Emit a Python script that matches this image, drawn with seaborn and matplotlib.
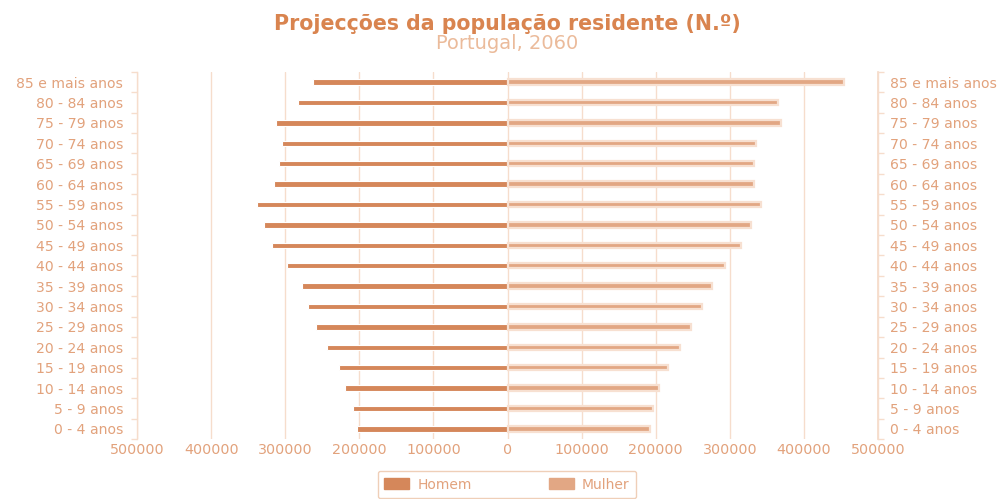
import matplotlib
matplotlib.use("Agg")
import matplotlib.pyplot as plt
import matplotlib.patches as mpatches
import matplotlib.ticker as mticker
import numpy as np
import pandas as pd
import seaborn as sns

# Age groups, top of the pyramid first
grupos = ["85 e mais anos", "80 - 84 anos", "75 - 79 anos", "70 - 74 anos",
          "65 - 69 anos", "60 - 64 anos", "55 - 59 anos", "50 - 54 anos",
          "45 - 49 anos", "40 - 44 anos", "35 - 39 anos", "30 - 34 anos",
          "25 - 29 anos", "20 - 24 anos", "15 - 19 anos", "10 - 14 anos",
          "5 - 9 anos", "0 - 4 anos"]
homem = [263000, 283000, 312000, 304000, 308000, 315000, 338000, 328000,
         318000, 298000, 278000, 269000, 259000, 244000, 228000, 219000,
         209000, 203000]
mulher = [454000, 365000, 369000, 336000, 332000, 332000, 342000, 329000,
          315000, 293000, 276000, 262000, 248000, 233000, 217000, 205000,
          197000, 192000]
x_ticks = [-500000, -400000, -300000, -200000, -100000, 0,
           100000, 200000, 300000, 400000, 500000]

c_homem = "#d5875a"
c_mulher = "#e2a784"
c_text = "#e2a27c"
c_grid = "#f6ddcc"
c_title = "#d9844f"

sns.set_theme(style="white")
plt.rcParams["font.family"] = ["DejaVu Sans"]

df = pd.DataFrame({"grupo": grupos, "Homem": np.negative(homem), "Mulher": mulher})

fig = plt.figure(figsize=(10.04, 4.99), dpi=100)
ax = fig.add_axes([0.1365, 0.12, 0.738, 0.736])

sns.barplot(data=df, y="grupo", x="Homem", orient="h", color=c_homem,
            width=0.27, edgecolor="white", linewidth=0.8, saturation=1, ax=ax)
sns.barplot(data=df, y="grupo", x="Mulher", orient="h", color=c_mulher,
            width=0.27, edgecolor="#f7e0d1", linewidth=1.6, saturation=1, ax=ax)

ax.set_xlim(-500000, 500000)
ax.set_xticks(x_ticks)
ax.xaxis.set_major_formatter(mticker.FuncFormatter(lambda v, p: f"{abs(int(v))}"))
ax.set_xlabel("")
ax.set_ylabel("")
ax.grid(axis="x", color=c_grid, linewidth=1)
ax.set_axisbelow(True)

ax.tick_params(axis="x", length=0, labelsize=10.3, labelcolor=c_text, pad=3)
ax.tick_params(axis="y", which="major", length=0, labelsize=10.1, labelcolor=c_text, pad=10)
ax.set_yticks(np.arange(-0.5, len(grupos), 1), minor=True)
ax.tick_params(axis="y", which="minor", length=4, color=c_grid, width=1)

for s in ["top", "bottom"]:
    ax.spines[s].set_visible(False)
for s in ["left", "right"]:
    ax.spines[s].set_color(c_grid)
    ax.spines[s].set_linewidth(1)

# right side labels
ax2 = ax.twinx()
ax2.set_ylim(ax.get_ylim())
ax2.set_yticks(np.arange(len(grupos)))
ax2.set_yticklabels(grupos)
ax2.set_yticks(np.arange(-0.5, len(grupos), 1), minor=True)
ax2.tick_params(axis="y", which="major", length=0, labelsize=10.1, labelcolor=c_text, pad=9)
ax2.tick_params(axis="y", which="minor", length=4, color=c_grid, width=1)
for s in ["top", "bottom", "left"]:
    ax2.spines[s].set_visible(False)
ax2.spines["right"].set_color(c_grid)
ax2.grid(False)

fig.text(0.505, 0.952, "Projecções da população residente (N.º)", ha="center",
         va="center", fontsize=14.8, fontweight="bold", color=c_title)
fig.text(0.505, 0.912, "Portugal, 2060", ha="center", va="center",
         fontsize=14, color="#ebbb9b")

handles = [mpatches.Patch(color=c_homem, label="Homem"),
           mpatches.Patch(color=c_mulher, label="Mulher")]
leg = fig.legend(handles=handles, loc="upper center", bbox_to_anchor=(0.505, 0.057),
                 ncol=2, frameon=True, fancybox=True, fontsize=10,
                 handlelength=1.8, handleheight=0.9, columnspacing=5.5,
                 borderpad=0.5, handletextpad=0.6, borderaxespad=0)
leg.get_frame().set_edgecolor("#ecc3a6")
leg.get_frame().set_linewidth(1)
for t in leg.get_texts():
    t.set_color(c_text)

fig.savefig("out.png", dpi=100)
